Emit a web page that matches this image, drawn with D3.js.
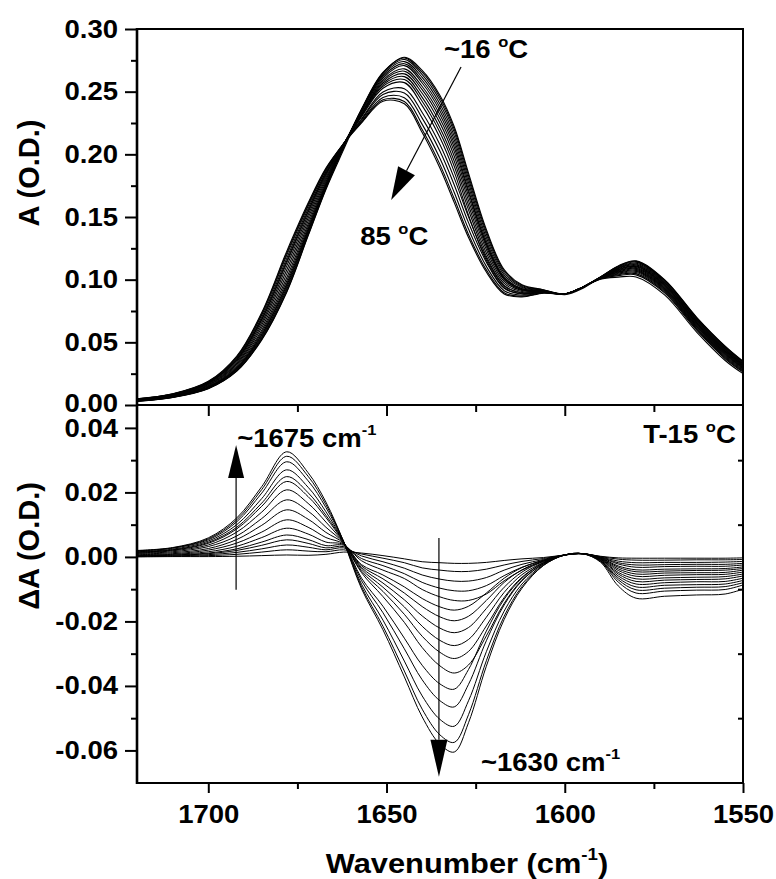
<!DOCTYPE html>
<html>
<head>
<meta charset="utf-8">
<script src="https://cdn.jsdelivr.net/npm/d3@7"></script>
<style>
  html, body { margin: 0; padding: 0; background: #fff; }
  svg { display: block; }
</style>
</head>
<body>
<svg id="chart" width="776" height="879"></svg>
<script>
// ---------------------------------------------------------------
// Data
// ---------------------------------------------------------------

// wavenumber grid (cm-1), same for both panels
var wavenumber = [1720, 1710, 1700, 1692, 1685, 1678, 1672, 1667, 1662, 1657, 1651, 1645, 1640, 1635, 1631,
    1627, 1622, 1617, 1612, 1606, 1600, 1595, 1590, 1585, 1580, 1572, 1563, 1555, 1550];

// top panel: absorbance, ~16 C (first row) up to 85 C (last row)
var absSpectra = [
    [.0030,.0060,.0130,.0270,.0520,.0900,.1350,.1720,.2040,.2350,.2650,.2775,.2670,.2470,.2220,.1850,.1400,.1080,.0960,.0920,.0880,.0930,.1020,.1110,.1150,.1000,.0700,.0470,.0350],
    [.0030,.0061,.0131,.0272,.0524,.0906,.1355,.1728,.2055,.2362,.2654,.2769,.2655,.2452,.2200,.1830,.1383,.1069,.0954,.0918,.0886,.0940,.1022,.1107,.1146,.0996,.0696,.0466,.0347],
    [.0031,.0062,.0134,.0278,.0535,.0922,.1368,.1736,.2062,.2359,.2646,.2757,.2636,.2429,.2175,.1805,.1362,.1055,.0946,.0915,.0886,.0940,.1021,.1103,.1140,.0990,.0691,.0461,.0342],
    [.0032,.0063,.0137,.0284,.0545,.0937,.1380,.1742,.2068,.2353,.2635,.2740,.2614,.2401,.2145,.1775,.1336,.1039,.0937,.0912,.0886,.0940,.1020,.1097,.1132,.0983,.0683,.0454,.0336],
    [.0033,.0065,.0140,.0290,.0556,.0953,.1392,.1748,.2072,.2345,.2623,.2723,.2591,.2373,.2115,.1745,.1311,.1022,.0928,.0909,.0886,.0940,.1019,.1092,.1125,.0976,.0677,.0447,.0330],
    [.0034,.0066,.0142,.0295,.0566,.0968,.1404,.1755,.2076,.2338,.2609,.2708,.2569,.2346,.2085,.1715,.1285,.1006,.0919,.0906,.0886,.0940,.1018,.1088,.1118,.0970,.0671,.0441,.0325],
    [.0035,.0068,.0146,.0303,.0580,.0989,.1421,.1766,.2078,.2326,.2594,.2682,.2541,.2315,.2055,.1697,.1288,.1014,.0927,.0910,.0886,.0940,.1017,.1082,.1110,.0962,.0663,.0434,.0319],
    [.0037,.0070,.0151,.0313,.0597,.1015,.1442,.1780,.2080,.2322,.2582,.2663,.2516,.2284,.2022,.1666,.1265,.1001,.0920,.0908,.0886,.0940,.1016,.1078,.1104,.0956,.0658,.0429,.0314],
    [.0039,.0073,.0156,.0324,.0618,.1046,.1467,.1796,.2082,.2317,.2569,.2642,.2487,.2249,.1985,.1631,.1240,.0986,.0913,.0906,.0886,.0940,.1015,.1073,.1097,.0950,.0651,.0422,.0309],
    [.0041,.0076,.0162,.0335,.0639,.1077,.1492,.1812,.2083,.2312,.2556,.2620,.2455,.2211,.1945,.1594,.1213,.0970,.0905,.0903,.0886,.0940,.1014,.1068,.1090,.0943,.0645,.0416,.0303],
    [.0042,.0079,.0167,.0347,.0659,.1108,.1516,.1828,.2084,.2306,.2543,.2597,.2424,.2174,.1905,.1557,.1186,.0954,.0897,.0901,.0886,.0940,.1013,.1062,.1082,.0935,.0637,.0409,.0297],
    [.0044,.0081,.0172,.0357,.0677,.1134,.1537,.1842,.2085,.2301,.2527,.2572,.2389,.2132,.1860,.1515,.1155,.0936,.0888,.0898,.0886,.0940,.1012,.1057,.1074,.0928,.0630,.0402,.0291],
    [.0045,.0082,.0175,.0362,.0687,.1149,.1549,.1849,.2086,.2284,.2497,.2523,.2334,.2076,.1810,.1501,.1170,.0949,.0894,.0902,.0886,.0940,.1010,.1051,.1066,.0920,.0623,.0394,.0284],
    [.0046,.0084,.0179,.0370,.0701,.1170,.1566,.1860,.2086,.2276,.2477,.2490,.2289,.2024,.1755,.1455,.1140,.0931,.0886,.0899,.0886,.0940,.1009,.1045,.1057,.0912,.0614,.0386,.0277],
    [.0048,.0087,.0183,.0379,.0718,.1195,.1586,.1873,.2087,.2265,.2454,.2452,.2239,.1966,.1695,.1404,.1106,.0912,.0876,.0896,.0886,.0940,.1008,.1039,.1048,.0903,.0606,.0378,.0270],
    [.0049,.0088,.0186,.0385,.0729,.1212,.1600,.1882,.2087,.2257,.2435,.2421,.2198,.1918,.1645,.1361,.1078,.0896,.0868,.0894,.0886,.0940,.1006,.1032,.1038,.0894,.0597,.0369,.0263],
    [.0050,.0089,.0189,.0391,.0738,.1226,.1611,.1890,.2086,.2251,.2424,.2403,.2174,.1889,.1615,.1336,.1061,.0886,.0863,.0893,.0886,.0940,.1004,.1020,.1022,.0878,.0582,.0355,.0250]
];

// bottom panel: difference spectra A(T) - A(15 C)
var diffSpectra = [
    [.0000,.0001,.0001,.0002,.0004,.0006,.0005,.0008,.0015,.0012,.0004,-.0006,-.0015,-.0018,-.0020,-.0020,-.0017,-.0011,-.0006,-.0002,.0006,.0010,.0002,-.0003,-.0004,-.0004,-.0004,-.0004,-.0003],
    [.0001,.0002,.0004,.0008,.0015,.0022,.0018,.0016,.0022,.0009,-.0004,-.0018,-.0034,-.0041,-.0045,-.0045,-.0038,-.0025,-.0014,-.0005,.0006,.0010,.0001,-.0007,-.0010,-.0010,-.0009,-.0009,-.0008],
    [.0002,.0003,.0007,.0014,.0025,.0037,.0030,.0022,.0028,.0003,-.0015,-.0035,-.0056,-.0069,-.0075,-.0075,-.0064,-.0041,-.0023,-.0008,.0006,.0010,.0000,-.0013,-.0018,-.0017,-.0017,-.0016,-.0014],
    [.0003,.0005,.0010,.0020,.0036,.0053,.0042,.0028,.0032,-.0005,-.0027,-.0052,-.0079,-.0097,-.0105,-.0105,-.0089,-.0058,-.0032,-.0011,.0006,.0010,-.0001,-.0018,-.0025,-.0024,-.0023,-.0023,-.0020],
    [.0004,.0006,.0012,.0025,.0046,.0068,.0054,.0035,.0036,-.0012,-.0041,-.0067,-.0101,-.0124,-.0135,-.0135,-.0115,-.0074,-.0041,-.0014,.0006,.0010,-.0002,-.0022,-.0032,-.0030,-.0029,-.0029,-.0025],
    [.0005,.0008,.0016,.0033,.0060,.0089,.0071,.0046,.0038,-.0024,-.0056,-.0093,-.0129,-.0155,-.0165,-.0153,-.0112,-.0066,-.0033,-.0010,.0006,.0010,-.0003,-.0028,-.0040,-.0038,-.0037,-.0036,-.0031],
    [.0007,.0010,.0021,.0043,.0077,.0115,.0092,.0060,.0040,-.0028,-.0068,-.0112,-.0154,-.0186,-.0198,-.0184,-.0135,-.0079,-.0040,-.0012,.0006,.0010,-.0004,-.0032,-.0046,-.0044,-.0042,-.0041,-.0036],
    [.0009,.0013,.0026,.0054,.0098,.0146,.0117,.0076,.0042,-.0033,-.0081,-.0133,-.0183,-.0221,-.0235,-.0219,-.0160,-.0094,-.0047,-.0014,.0006,.0010,-.0005,-.0037,-.0053,-.0050,-.0049,-.0048,-.0041],
    [.0011,.0016,.0032,.0065,.0119,.0177,.0142,.0092,.0043,-.0038,-.0094,-.0155,-.0215,-.0259,-.0275,-.0256,-.0187,-.0110,-.0055,-.0017,.0006,.0010,-.0006,-.0042,-.0060,-.0057,-.0055,-.0054,-.0047],
    [.0012,.0019,.0037,.0077,.0139,.0208,.0166,.0108,.0044,-.0044,-.0107,-.0178,-.0246,-.0296,-.0315,-.0293,-.0214,-.0126,-.0063,-.0019,.0006,.0010,-.0007,-.0048,-.0068,-.0065,-.0063,-.0061,-.0053],
    [.0014,.0021,.0042,.0087,.0157,.0234,.0187,.0122,.0045,-.0049,-.0123,-.0203,-.0281,-.0338,-.0360,-.0335,-.0245,-.0144,-.0072,-.0022,.0006,.0010,-.0008,-.0053,-.0076,-.0072,-.0070,-.0068,-.0059],
    [.0015,.0022,.0045,.0092,.0167,.0249,.0199,.0129,.0046,-.0066,-.0153,-.0252,-.0336,-.0394,-.0410,-.0349,-.0230,-.0131,-.0066,-.0018,.0006,.0010,-.0010,-.0059,-.0084,-.0080,-.0077,-.0076,-.0066],
    [.0016,.0024,.0049,.0100,.0181,.0270,.0216,.0140,.0046,-.0074,-.0173,-.0285,-.0381,-.0446,-.0465,-.0395,-.0260,-.0149,-.0074,-.0021,.0006,.0010,-.0011,-.0065,-.0093,-.0088,-.0086,-.0084,-.0073],
    [.0018,.0027,.0053,.0109,.0198,.0295,.0236,.0153,.0047,-.0085,-.0196,-.0323,-.0431,-.0504,-.0525,-.0446,-.0294,-.0168,-.0084,-.0024,.0006,.0010,-.0012,-.0071,-.0102,-.0097,-.0094,-.0092,-.0080],
    [.0019,.0028,.0056,.0115,.0209,.0312,.0250,.0162,.0047,-.0093,-.0215,-.0354,-.0472,-.0552,-.0575,-.0489,-.0322,-.0184,-.0092,-.0026,.0006,.0010,-.0014,-.0078,-.0112,-.0106,-.0103,-.0101,-.0087],
    [.0020,.0029,.0059,.0121,.0218,.0326,.0261,.0170,.0046,-.0099,-.0226,-.0372,-.0496,-.0581,-.0605,-.0514,-.0339,-.0194,-.0097,-.0027,.0006,.0010,-.0016,-.0090,-.0128,-.0122,-.0118,-.0115,-.0100]
];

// ticks
var xMajor = [1700, 1650, 1600, 1550];
var xMinor = [1675, 1625, 1575];
var yTopMajor = [0, 0.05, 0.10, 0.15, 0.20, 0.25, 0.30];
var yTopMinor = [0.025, 0.075, 0.125, 0.175, 0.225, 0.275];
var yBotMajor = [0.04, 0.02, 0, -0.02, -0.04, -0.06];
var yBotMinor = [0.03, 0.01, -0.01, -0.03, -0.05];

// ---------------------------------------------------------------
// Layout
// ---------------------------------------------------------------
var L = 137, R = 743, TOP = 29, MID = 405, BOT = 783;
var SX = 1.1;   // glyphs in the original are a bit wider than Arial
var FAMILY = '"Liberation Sans", Arial, sans-serif';

var svg = d3.select('#chart');

var x = d3.scaleLinear().domain([1720, 1550]).range([L, R]);
var yTop = d3.scaleLinear().domain([0, 0.30]).range([MID, TOP]);
var yBot = d3.scaleLinear().domain([-0.0701, 0.0471]).range([BOT, MID]);

var defs = svg.append('defs');
defs.append('clipPath').attr('id', 'clip-top')
    .append('rect').attr('x', L).attr('y', TOP).attr('width', R - L).attr('height', MID - TOP);
defs.append('clipPath').attr('id', 'clip-bot')
    .append('rect').attr('x', L).attr('y', MID).attr('width', R - L).attr('height', BOT - MID);

// ---------------------------------------------------------------
// Curves
// ---------------------------------------------------------------
function spectrumLine(yScale) {
    return d3.line()
        .x(function(d, i) { return x(wavenumber[i]); })
        .y(function(d) { return yScale(d); })
        .curve(d3.curveCatmullRom.alpha(0.5));
}

svg.append('g').attr('clip-path', 'url(#clip-top)')
    .selectAll('path')
    .data(absSpectra)
    .join('path')
    .attr('d', spectrumLine(yTop))
    .attr('fill', 'none')
    .attr('stroke', '#000')
    .attr('stroke-width', 1.1);

svg.append('g').attr('clip-path', 'url(#clip-bot)')
    .selectAll('path')
    .data(diffSpectra)
    .join('path')
    .attr('d', spectrumLine(yBot))
    .attr('fill', 'none')
    .attr('stroke', '#000')
    .attr('stroke-width', 1);

// ---------------------------------------------------------------
// Axes
// ---------------------------------------------------------------
function fmt(d) { return d.toFixed(2); }

function styleAxis(g, sw) {
    g.attr('font-family', FAMILY).attr('font-size', 25).attr('font-weight', 'bold');
    g.select('.domain').remove();
    g.selectAll('.tick line').attr('stroke', '#000').attr('stroke-width', sw || 2);
    return g;
}

function stretchLeft(g, off) {
    g.selectAll('.tick text')
        .attr('transform', 'scale(' + SX + ',1)')
        .attr('x', -off / SX)
        .attr('fill', '#000');
}

// top panel, left
var gTopY = svg.append('g').attr('transform', 'translate(' + L + ',0)')
    .call(d3.axisLeft(yTop).tickValues(yTopMajor).tickSize(12).tickPadding(7).tickFormat(fmt));
styleAxis(gTopY);
stretchLeft(gTopY, 19);
// the 0.00 and 0.04 labels sit on the shared edge: pull them apart a little
gTopY.selectAll('.tick text').filter(function(d) { return d === 0; }).attr('y', -2);
styleAxis(svg.append('g').attr('transform', 'translate(' + L + ',0)')
    .call(d3.axisLeft(yTop).tickValues(yTopMinor).tickSize(6).tickFormat('')));

// top panel, bottom (shared edge) - ticks only
styleAxis(svg.append('g').attr('transform', 'translate(0,' + MID + ')')
    .call(d3.axisBottom(x).tickValues(xMajor.slice(0, 3)).tickSize(11).tickFormat('')));
styleAxis(svg.append('g').attr('transform', 'translate(0,' + MID + ')')
    .call(d3.axisBottom(x).tickValues(xMinor).tickSize(7).tickFormat('')));

// bottom panel, left
var gBotY = svg.append('g').attr('transform', 'translate(' + L + ',0)')
    .call(d3.axisLeft(yBot).tickValues(yBotMajor).tickSize(12).tickPadding(7).tickFormat(fmt));
styleAxis(gBotY);
stretchLeft(gBotY, 19);
gBotY.selectAll('.tick text').filter(function(d) { return d === 0.04; }).attr('y', 1);
styleAxis(svg.append('g').attr('transform', 'translate(' + L + ',0)')
    .call(d3.axisLeft(yBot).tickValues(yBotMinor).tickSize(6).tickFormat('')));

// bottom panel, right (inner minor ticks)
styleAxis(svg.append('g').attr('transform', 'translate(' + R + ',0)')
    .call(d3.axisLeft(yBot).tickValues(yBotMinor).tickSize(5).tickFormat('')));

// bottom panel, x axis
var gX = svg.append('g').attr('transform', 'translate(0,' + BOT + ')')
    .call(d3.axisBottom(x).tickValues(xMajor).tickSize(10).tickPadding(12).tickFormat(d3.format('d')));
styleAxis(gX);
gX.selectAll('.tick text').attr('transform', 'scale(' + SX + ',1)').attr('fill', '#000');
styleAxis(svg.append('g').attr('transform', 'translate(0,' + BOT + ')')
    .call(d3.axisBottom(x).tickValues(xMinor).tickSize(6).tickFormat('')));

// frames
svg.append('rect').attr('x', L).attr('y', TOP).attr('width', R - L).attr('height', MID - TOP)
    .attr('fill', 'none').attr('stroke', '#000').attr('stroke-width', 2);
svg.append('rect').attr('x', L).attr('y', MID).attr('width', R - L).attr('height', BOT - MID)
    .attr('fill', 'none').attr('stroke', '#000').attr('stroke-width', 2);
svg.append('line').attr('x1', L).attr('x2', L).attr('y1', TOP - 1).attr('y2', BOT + 1)
    .attr('stroke', '#000').attr('stroke-width', 2.6);

// ---------------------------------------------------------------
// Text & annotations
// ---------------------------------------------------------------
function note(px, py, parts, opts) {
    opts = opts || {};
    var t = svg.append('text')
        .attr('transform', 'translate(' + px + ',' + py + ')' + (opts.rotate ? ' rotate(-90)' : ' scale(' + SX + ',1)'))
        .attr('font-family', FAMILY)
        .attr('font-weight', 'bold')
        .attr('font-size', opts.size || 25)
        .attr('text-anchor', opts.anchor || 'start')
        .attr('fill', '#000');
    var shift = 0;
    parts.forEach(function(p) {
        var sup = typeof p !== 'string';
        var target = sup ? -p.up : 0;
        var ts = t.append('tspan').attr('dy', target - shift).text(sup ? p.t : p);
        if (sup) ts.attr('font-size', p.size);
        shift = target;
    });
    return t;
}

function arrow(x1, y1, x2, y2, headLen, headW) {
    var ang = Math.atan2(y2 - y1, x2 - x1);
    var bx = x2 - headLen * Math.cos(ang), by = y2 - headLen * Math.sin(ang);
    var nx = -Math.sin(ang) * headW / 2, ny = Math.cos(ang) * headW / 2;
    svg.append('line')
        .attr('x1', x1).attr('y1', y1).attr('x2', bx).attr('y2', by)
        .attr('stroke', '#000').attr('stroke-width', 1.2);
    svg.append('path')
        .attr('d', 'M' + x2 + ',' + y2 + 'L' + (bx + nx) + ',' + (by + ny) + 'L' + (bx - nx) + ',' + (by - ny) + 'Z')
        .attr('fill', '#000');
}

var DEG = { t: 'o', up: 11, size: 15 };
var INV = { t: '-1', up: 12, size: 15 };

// top panel
note(x(1633.9), yTop(0.2769), ['~16 ', DEG, 'C']);
note(x(1657.4), yTop(0.1277), ['85 ', DEG, 'C']);
arrow(x(1629.1), yTop(0.2697), x(1648.7), yTop(0.1636), 33, 19);

// bottom panel
note(x(1691.9), yBot(0.0341), ['~1675 cm', INV]);
note(x(1578.0), yBot(0.0353), ['T-15 ', DEG, 'C']);
note(x(1623.5), yBot(-0.0664), ['~1630 cm', INV]);
arrow(x(1692.2), yBot(-0.0102), x(1692.2), yBot(0.0347), 33, 16);
arrow(x(1635.3), yBot(0.0059), x(1635.3), yBot(-0.0682), 37, 17);

// axis titles
note(39, 173, ['A (O.D.)'], { rotate: true, anchor: 'middle', size: 29 });
note(39, 546, ['\u0394A (O.D.)'], { rotate: true, anchor: 'middle', size: 29 });
note(467, 873, ['Wavenumber (cm', { t: '-1', up: 13, size: 17 }, ')'], { anchor: 'middle', size: 28 });
</script>
</body>
</html>
